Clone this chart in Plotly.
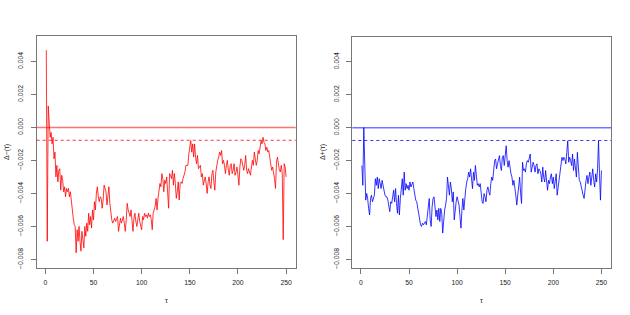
import plotly.graph_objects as go

tau = list(range(1, 251))

# Delta-(tau), units of 1e-3
delta_minus_e3 = [
    4.68, -6.9, 1.3, 0.2, -0.6, -0.3, -1.0, -0.6, -1.9, -1.5,
    -3.0, -2.3, -3.3, -2.6, -2.5, -3.8, -2.9, -3.2, -3.9, -3.6,
    -4.2, -3.7, -3.9, -3.7, -4.2, -3.9, -4.6, -4.9, -5.5, -5.9,
    -6.0, -7.6, -6.2, -6.9, -6.0, -6.9, -7.5, -6.3, -6.8, -7.3,
    -6.0, -6.6, -5.8, -6.3, -5.2, -5.9, -5.4, -6.1, -5.0, -5.6,
    -4.5, -5.0, -4.0, -3.6, -4.2, -4.5, -4.2, -4.3, -4.9, -4.4,
    -3.5, -3.7, -3.9, -4.7, -3.8, -3.6, -4.6, -5.2, -5.6, -5.8,
    -5.6, -5.5, -5.7, -5.5, -5.4, -6.3, -5.9, -5.5, -5.8, -5.6,
    -5.4, -5.8, -6.3, -5.6, -4.6, -5.0, -5.3, -5.4, -5.0, -5.6,
    -6.3, -5.5, -5.2, -5.7, -6.0, -5.6, -5.2, -5.7, -5.9, -6.2,
    -5.4, -5.6, -5.2, -5.4, -5.3, -5.5, -5.2, -5.4, -5.3, -5.6,
    -6.2, -5.2, -5.0, -4.8, -4.3, -5.0, -4.3, -3.6, -3.4, -3.6,
    -2.8, -3.1, -3.9, -3.2, -3.4, -3.0, -4.5, -4.9, -2.8, -2.9,
    -3.1, -2.6, -3.5, -2.8, -3.4, -4.3, -3.9, -3.3, -4.4, -3.4,
    -3.3, -3.4, -3.1, -2.9, -2.7, -2.3, -2.3, -2.3, -1.6, -1.2,
    -0.8, -1.5, -1.0, -1.8, -1.0, -1.8, -2.2, -1.7, -2.5, -2.4,
    -2.3, -3.0, -2.8, -3.5, -3.2, -3.0, -3.4, -4.0, -3.3, -3.0,
    -3.5, -3.7, -2.8, -2.6, -3.3, -3.8, -2.7, -2.2, -2.0, -1.8,
    -1.5, -1.7, -1.4, -2.2, -2.0, -2.3, -2.8, -2.3, -2.0, -2.6,
    -2.9, -2.3, -2.2, -2.8, -2.6, -2.2, -2.9, -2.7, -2.4, -2.9,
    -3.5, -2.4, -1.9, -2.0, -2.3, -2.6, -2.3, -1.7, -2.6, -2.8,
    -2.5, -2.8, -2.9, -2.4, -2.0, -2.3, -1.5, -1.9, -2.3, -2.0,
    -1.4, -1.6, -1.1, -0.8, -1.0, -0.6, -0.9, -1.0, -1.4, -1.2,
    -1.5, -1.4, -1.8, -2.1, -2.6, -2.4, -2.7, -3.1, -3.7, -2.1,
    -1.8, -2.4, -2.6, -2.7, -2.3, -2.8, -6.8, -2.2, -2.4, -3.0,
]

# Delta+(tau), units of 1e-3
delta_plus_e3 = [
    -2.3, -3.5, 0.0, -3.1, -4.4, -4.0, -4.3, -4.9, -5.3, -4.3,
    -4.1, -4.5, -4.3, -4.1, -3.1, -3.5, -3.0, -3.7, -3.1, -3.4,
    -3.7, -3.2, -3.6, -3.7, -4.1, -4.2, -4.2, -4.4, -4.8, -5.1,
    -4.5, -4.6, -4.2, -3.8, -4.5, -3.7, -4.6, -5.2, -4.1, -5.3,
    -4.3, -3.7, -3.1, -4.1, -2.7, -3.8, -3.4, -3.7, -3.5, -3.8,
    -3.3, -3.6, -3.4, -3.3, -3.7, -4.1, -4.4, -4.5, -4.9, -5.4,
    -5.6, -5.9, -6.0, -5.8, -5.9, -5.8, -5.7, -5.9, -5.4, -4.7,
    -4.3, -5.6, -6.0, -4.8, -4.3, -4.2, -4.9, -5.4, -5.0, -5.6,
    -4.9, -5.7, -4.9, -5.2, -6.4, -5.4, -5.0, -4.7, -4.3, -3.0,
    -3.7, -4.1, -3.3, -3.7, -4.5, -3.9, -5.6, -4.7, -4.5, -4.2,
    -4.5, -4.7, -5.4, -6.1, -5.0, -4.3, -5.0, -4.2, -3.7, -3.3,
    -3.1, -2.7, -3.0, -2.5, -3.2, -3.7, -2.7, -3.2, -2.3, -3.2,
    -3.5, -3.4, -3.6, -3.4, -3.9, -4.5, -4.6, -4.0, -4.2, -4.5,
    -3.8, -3.6, -3.9, -4.1, -3.4, -3.0, -3.2, -2.5, -2.0, -1.9,
    -2.5, -2.2, -1.9, -1.7, -2.3, -2.6, -1.8, -1.7, -2.3, -1.6,
    -1.1, -2.0, -2.4, -2.0, -2.5, -2.8, -3.0, -3.5, -3.2, -3.9,
    -4.1, -4.7, -4.2, -3.5, -3.0, -4.0, -4.6, -2.1, -2.6, -2.5,
    -2.7, -2.2, -2.0, -2.1, -1.7, -1.6, -2.7, -2.4, -2.1, -2.3,
    -2.7, -2.3, -2.2, -2.8, -2.5, -2.6, -2.8, -3.3, -2.4, -3.0,
    -3.3, -2.6, -3.3, -3.8, -3.2, -3.4, -3.0, -2.8, -3.4, -3.0,
    -3.7, -3.2, -2.8, -4.1, -3.6, -3.2, -2.8, -2.0, -1.8, -2.0,
    -1.8, -1.9, -2.2, -1.5, -0.8, -2.1, -1.8, -2.0, -2.3, -1.6,
    -2.6, -1.9, -2.3, -3.0, -1.5, -2.4, -3.2, -3.3, -3.6, -4.0,
    -4.1, -4.3, -3.5, -3.2, -2.9, -3.4, -3.0, -2.7, -3.5, -3.1,
    -2.5, -3.2, -3.6, -2.8, -3.3, -2.5, -0.8, -2.8, -4.4, -2.6,
]

delta_minus = [v * 1e-3 for v in delta_minus_e3]
delta_plus = [v * 1e-3 for v in delta_plus_e3]

zero_level = 0.0
threshold = -0.00078

x_ticks = [0, 50, 100, 150, 200, 250]
y_ticks = [0.004, 0.002, 0.0, -0.002, -0.004, -0.006, -0.008]
y_tick_text = ["0.004", "0.002", "0.000", "−0.002", "−0.004", "−0.006", "−0.008"]

x_range = [-8.96, 259.96]
y_range = [-0.00852, 0.00552]

W, H = 630, 315
FONT = "Liberation Sans, Arial, sans-serif"

fig = go.Figure()
fig.add_trace(go.Scatter(x=tau, y=delta_minus, mode="lines",
                         line=dict(color="#ff0000", width=0.8), xaxis="x", yaxis="y",
                         showlegend=False, hoverinfo="skip"))
fig.add_trace(go.Scatter(x=tau, y=delta_plus, mode="lines",
                         line=dict(color="#0000ff", width=0.8), xaxis="x2", yaxis="y2",
                         showlegend=False, hoverinfo="skip"))

shapes = []
for xa, ya, col, colsoft in [("x", "y", "#ff0000", "rgba(255,0,0,0.55)"),
                             ("x2", "y2", "#0000ff", "rgba(0,0,255,0.55)")]:
    shapes.append(dict(type="line", xref=f"{xa} domain", yref=ya, x0=0, x1=1,
                       y0=zero_level, y1=zero_level, line=dict(color=colsoft, width=1.5), layer="above"))
    shapes.append(dict(type="line", xref=f"{xa} domain", yref=ya, x0=0, x1=1,
                       y0=threshold, y1=threshold, line=dict(color=col, width=0.8, dash="3px,3px"), layer="above"))

def px_dom_x(a, b):
    return [a / W, b / W]

def px_dom_y(top, bottom):
    return [(H - bottom) / H, (H - top) / H]

axis_common = dict(showgrid=False, zeroline=False, showline=True, mirror=True,
                   linecolor="#777777", linewidth=1, ticks="outside", ticklen=5,
                   tickcolor="#777777", tickwidth=1,
                   tickfont=dict(family=FONT, size=6.8, color="#222222"))

xa = dict(axis_common, range=x_range, tickvals=x_ticks, ticktext=[str(v) for v in x_ticks],
          ticklabelstandoff=3)
ya = dict(axis_common, range=y_range, tickvals=y_ticks, ticktext=y_tick_text,
          tickangle=-90, ticklabelstandoff=5)

title_font = dict(family=FONT, size=7, color="#222222")
fig.update_layout(
    width=W, height=H,
    margin=dict(l=0, r=0, t=0, b=0),
    paper_bgcolor="white", plot_bgcolor="white",
    xaxis=dict(xa, domain=px_dom_x(36.7, 295.7), anchor="y"),
    yaxis=dict(ya, domain=px_dom_y(36.3, 268), anchor="x"),
    xaxis2=dict(xa, domain=px_dom_x(352.3, 611), anchor="y2"),
    yaxis2=dict(ya, domain=px_dom_y(36.7, 268), anchor="x2"),
    shapes=shapes,
    annotations=[
        dict(text="τ", x=(36.7 + 295.7) / 2 / W, y=1 - 300 / H, xref="paper", yref="paper",
             xanchor="center", yanchor="middle", showarrow=False, font=title_font),
        dict(text="τ", x=(352.3 + 611) / 2 / W, y=1 - 300 / H, xref="paper", yref="paper",
             xanchor="center", yanchor="middle", showarrow=False, font=title_font),
        dict(text="Δ−(τ)", x=7 / W, y=1 - 152 / H, xref="paper", yref="paper",
             xanchor="center", yanchor="middle", showarrow=False, textangle=-90, font=title_font),
        dict(text="Δ+(τ)", x=323 / W, y=1 - 152 / H, xref="paper", yref="paper",
             xanchor="center", yanchor="middle", showarrow=False, textangle=-90, font=title_font),
    ],
)

fig.write_html("out.html", config={"displayModeBar": False},
               post_script="document.body.style.margin='0';document.body.style.padding='0';")
